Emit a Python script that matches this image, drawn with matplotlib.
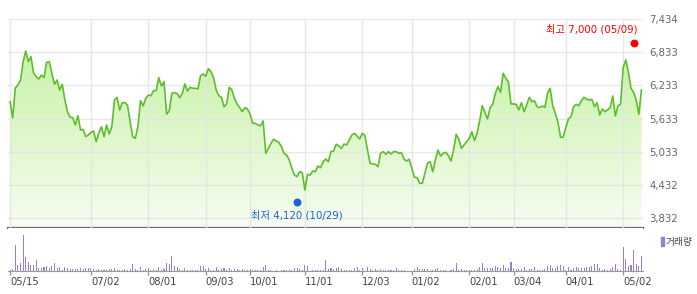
import numpy as np
import matplotlib
matplotlib.use("Agg")
import matplotlib.pyplot as plt
from matplotlib.colors import LinearSegmentedColormap
from matplotlib.patches import Polygon, Rectangle

plt.rcParams["font.family"] = ["DejaVu Sans", "Noto Sans CJK KR"]

# daily closing price, one value per trading day
price = [
    5937, 5642, 6185, 6240, 6330, 6661, 6855, 6661, 6752, 6457,
    6390, 6348, 6420, 6372, 6650, 6661, 6457, 6252, 6330, 6149,
    6252, 5968, 5756, 5655, 5648, 5515, 5684, 5425, 5437, 5304,
    5334, 5380, 5407, 5213, 5365, 5485, 5304, 5515, 5352, 5485,
    5968, 6017, 5787, 5919, 5919, 5877, 5575, 5304, 5274, 5485,
    5956, 5859, 5999, 6058, 6046, 6137, 6137, 6372, 6221, 6299,
    5714, 5769, 6089, 6100, 6089, 6010, 6089, 6258, 6131, 6198,
    6180, 6180, 6167, 6408, 6439, 6397, 6535, 6480, 6372,
    6149, 6046, 6017, 5847, 5896, 6198, 6149, 5999, 5896, 5829,
    5756, 5829, 5805, 5709, 5546, 5546, 5515, 5503, 5588, 5003,
    5093, 5184, 5257, 5226, 5202, 5123, 5003, 4972, 4882, 4732,
    4610, 4580, 4670, 4652, 4339, 4622, 4610, 4683, 4670, 4773,
    4743, 4851,
    4900, 4851, 5033, 5045, 5166, 5135, 5093, 5172, 5153, 5244,
    5334, 5365, 5316, 5262, 5365, 5322, 5063, 4822, 4810, 4804,
    4761, 5003, 5033, 4985, 5033, 4990, 5033, 5033, 5003, 5015,
    4895, 4864, 4895, 4732, 4569, 4562, 4460, 4460, 4641,
    4822, 4851, 4670, 4882, 5063, 4954, 5003, 5021, 4960, 4864,
    5063, 5347, 5257, 5093, 5153, 5213, 5274, 5394, 5232, 5365,
    5593, 5865, 5745, 5624, 5829, 5890, 6089, 6209, 6107, 6451,
    6361, 6299, 5896, 5896, 5890, 5787, 5919, 5756, 5877, 6017,
    5937, 5956, 5847, 5829, 5859, 5835, 6089, 6180, 5865, 5727,
    5564, 5293, 5293, 5467, 5624, 5666, 5847, 5890, 5865, 5956,
    6017, 5980, 5968, 5980, 5847, 5919, 5696, 5805, 5756, 5787,
    5829, 6040, 5678, 5865, 5896, 6553, 6692, 6480, 6180, 6107,
    5968, 5709, 6149,
]

# trading volume (thousand shares)
volume = [
    3, 5, 78, 18, 24, 108, 41, 26, 18, 18,
    32, 8, 8, 11, 14, 8, 14, 23, 8, 11,
    3, 11, 8, 5, 5, 5, 5, 8, 5, 8,
    8, 8, 5, 3, 5, 3, 3, 3, 5, 5,
    8, 3, 3, 3, 5, 3, 5, 20, 5, 3,
    11, 3, 5, 8, 3, 5, 3, 11, 3, 5,
    23, 21, 44, 14, 11, 5, 3, 8, 3, 3,
    3, 3, 3, 14, 14, 5, 8, 3, 3, 11,
    3, 5, 8, 3, 8, 3, 5, 5, 3, 5,
    3, 3, 5, 3, 3, 3, 3, 11, 18, 3,
    3, 1, 3, 1, 3, 3, 3, 3, 3, 8,
    8, 5, 3, 17, 14, 1, 3, 3, 3, 3,
    3, 32, 6, 8, 5, 8, 13, 5, 3, 2,
    2, 2, 8, 11, 2, 8, 1, 11, 7, 2,
    5, 2, 5, 2, 2, 2, 2, 2, 8, 2,
    2, 2, 1, 1, 1, 5, 11, 5, 5, 5,
    5, 2, 2, 5, 8, 2, 2, 2, 1, 2,
    5, 23, 2, 5, 2, 2, 2, 2, 2, 5,
    11, 23, 8, 8, 8, 8, 14, 11, 8, 17,
    8, 8, 26, 8, 5, 5, 5, 11, 2, 5,
    5, 11, 2, 2, 2, 5, 14, 17, 8, 8,
    14, 17, 14, 2, 11, 2, 8, 11, 8, 8,
    8, 11, 11, 14, 20, 20, 8, 2, 5, 2,
    5, 11, 20, 5, 2, 70, 35, 15, 18, 63,
    21, 15, 46,
]
volume = [v * 1000 for v in volume]

tick_idx = [0, 31, 53, 75, 92, 113, 135, 154, 176, 193, 213, 235]
tick_lbl = ["05/15", "07/02", "08/01", "09/03", "10/01", "11/01",
            "12/03", "01/02", "02/01", "03/04", "04/01", "05/02"]
y_ticks = [3832, 4432, 5033, 5633, 6233, 6833, 7434]

hi_idx, hi_val, hi_txt = 239, 7000, "최고 7,000 (05/09)"
lo_idx, lo_val, lo_txt = 110, 4120, "최저 4,120 (10/29)"

x = np.arange(len(price))
xlim = (-0.8, len(price) - 0.4)
ylim = (3651, 7434)

fig = plt.figure(figsize=(6.97, 2.94), dpi=100)
ax = fig.add_axes([8 / 697, 66 / 294, 635 / 697, 209 / 294])
axv = fig.add_axes([8 / 697, 23 / 294, 635 / 697, 43 / 294])

# price panel
grad = np.linspace(0, 1, 256).reshape(-1, 1)
cmap = LinearSegmentedColormap.from_list("g", ["#f7fdf2", "#bff09a"])
im = ax.imshow(grad, extent=[xlim[0], xlim[1], ylim[0], ylim[1]], origin="lower",
               aspect="auto", cmap=cmap, zorder=1)
verts = list(zip(x, price)) + [(x[-1], ylim[0]), (x[0], ylim[0])]
clip = Polygon(verts, closed=True, facecolor="none", edgecolor="none")
ax.add_patch(clip)
im.set_clip_path(clip)
ax.plot(x, price, color="#5cbf2a", lw=1.2, zorder=3)

ax.set_xlim(*xlim)
ax.set_ylim(*ylim)
ax.set_xticks(tick_idx)
ax.set_yticks(y_ticks)
ax.set_yticklabels([f"{v:,}" for v in y_ticks])
ax.yaxis.tick_right()
ax.tick_params(axis="y", length=0, pad=4.5, labelsize=7.3, labelcolor="#666666")
ax.tick_params(axis="x", length=0, labelbottom=False)
ax.grid(True, color="#e4e4e4", lw=1, alpha=0.85, zorder=2)
ax.set_axisbelow(False)
for s in ["top", "left", "right"]:
    ax.spines[s].set_visible(False)
ax.spines["bottom"].set_color("#6e6e6e")
ax.spines["bottom"].set_linewidth(1.6)

ax.scatter([hi_idx], [hi_val], s=22, color="#ff0000", zorder=4, clip_on=False)
ax.annotate(hi_txt, (hi_idx, hi_val), xytext=(3, 10), textcoords="offset points",
            ha="right", va="center", color="#ff0000", fontsize=7.4)
ax.scatter([lo_idx], [lo_val], s=22, color="#1a64d6", zorder=4, clip_on=False)
ax.annotate(lo_txt, (lo_idx, lo_val), xytext=(0, -9.5), textcoords="offset points",
            ha="center", va="center", color="#1a64d6", fontsize=7.4)

# volume panel
axv.bar(x, volume, width=0.4, color="#9a80cc")
axv.set_xlim(*xlim)
axv.set_ylim(0, 128000)
axv.set_yticks([])
axv.set_xticks(tick_idx)
axv.set_xticklabels(tick_lbl, ha="left")
axv.tick_params(axis="x", length=3, width=1, color="#999999", pad=1.5,
                labelsize=7.2, labelcolor="#444444")
for s in ["top", "left", "right"]:
    axv.spines[s].set_visible(False)
axv.spines["bottom"].set_color("#999999")

fig.patches.append(Rectangle((661 / 697, 1 - 246 / 294), 3 / 697, 9 / 294,
                             transform=fig.transFigure, color="#9a80cc"))
fig.text(666 / 697, 1 - 241.5 / 294, "거래량", ha="left", va="center",
         fontsize=7, color="#444444")

fig.savefig("out.png", dpi=100)
